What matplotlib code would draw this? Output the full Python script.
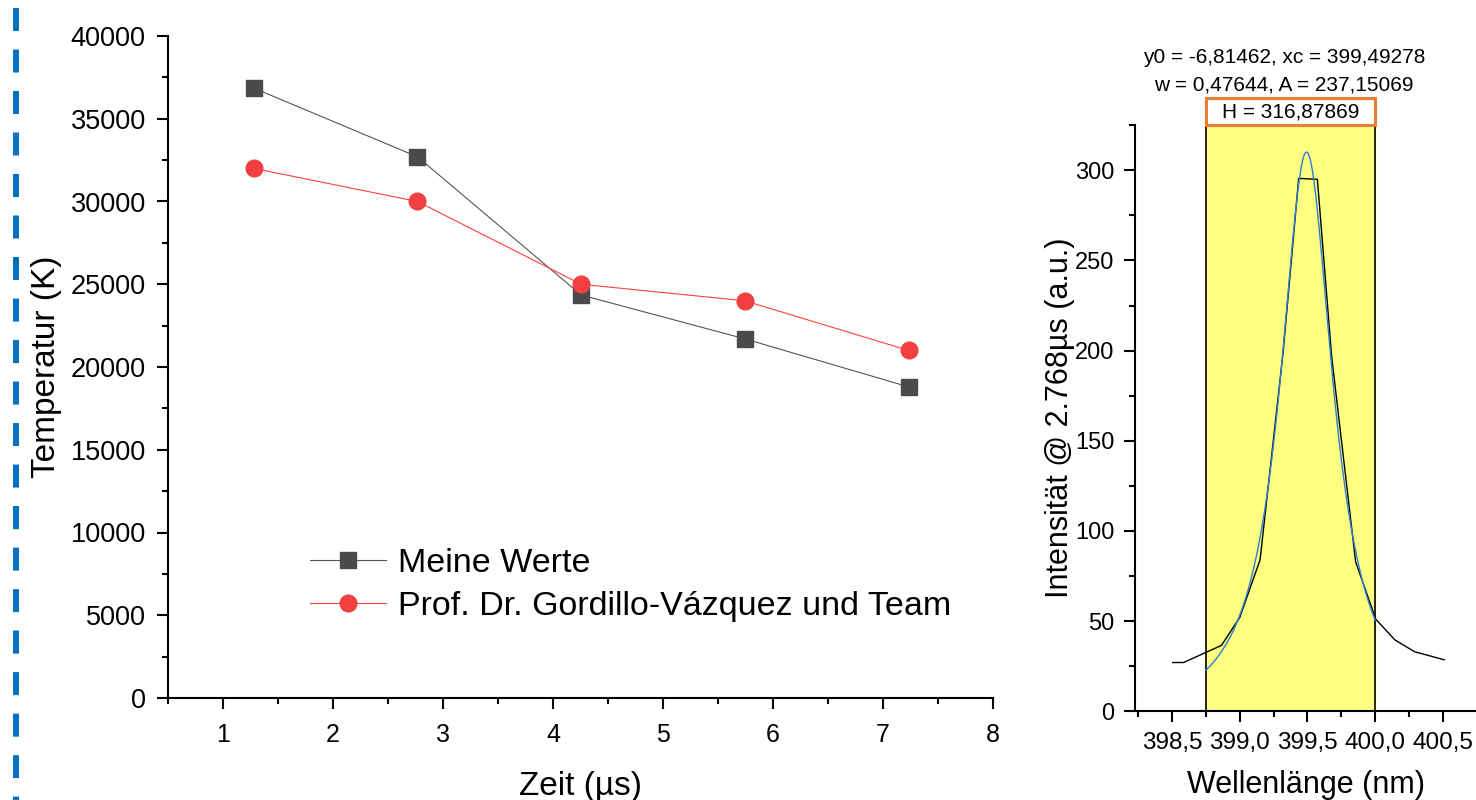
import numpy as np
import matplotlib
matplotlib.use("Agg")
import matplotlib.pyplot as plt
from matplotlib.lines import Line2D
from matplotlib.patches import Rectangle
from matplotlib.ticker import MultipleLocator, FuncFormatter
from matplotlib.transforms import blended_transform_factory

# ============================
# 1. Data
# ============================
# left panel: temperature vs. time
zeit = [1.28, 2.768, 4.256, 5.744, 7.232]
meine_werte = [36850, 32700, 24350, 21700, 18800]
gordillo = [32000, 30000, 25000, 24000, 21000]
legend_labels = ["Meine Werte", "Prof. Dr. Gordillo-Vázquez und Team"]

# right panel: measured line profile
wellenlaenge = [398.505, 398.585, 398.865, 399.0, 399.15, 399.32, 399.435,
                399.573, 399.678, 399.855, 400.004, 400.146, 400.29, 400.51]
intensitaet = [27, 27, 36.5, 52, 84, 199, 295.5,
               295, 197, 83, 51, 39.5, 33, 28.5]

# Lorentz fit parameters as printed above the panel
y0, xc, w, A = -6.81462, 399.49278, 0.47644, 237.15069
H = 316.87869
fit_range = (398.75, 400.0)

# ============================
# 2. Figure
# ============================
plt.rcParams["font.family"] = ["Liberation Sans", "DejaVu Sans"]
fig = plt.figure(figsize=(14.76, 8), dpi=100)

# blue dashed separator at the far left
fig.add_artist(Line2D([0.0108, 0.0108], [0.99, 0.0], transform=fig.transFigure,
                      color="#0070C0", lw=4.3, dashes=(3.85, 3.1)))

# ---- left panel ----
ax1 = fig.add_axes([0.1138, 0.1275, 0.559, 0.8275])
ax1.plot(zeit, meine_werte, color="#555555", lw=0.8, marker="s", ms=11,
         mfc="#4a4a4a", mec="#4a4a4a", label=legend_labels[0])
ax1.plot(zeit, gordillo, color="#ff4040", lw=0.8, marker="o", ms=12,
         mfc="#f04040", mec="#f04040", label=legend_labels[1])

ax1.set_xlim(0.5, 8)
ax1.set_ylim(0, 40000)
ax1.xaxis.set_major_locator(MultipleLocator(1))
ax1.xaxis.set_minor_locator(MultipleLocator(0.5))
ax1.yaxis.set_major_locator(MultipleLocator(5000))
ax1.yaxis.set_minor_locator(MultipleLocator(2500))
ax1.set_xlabel("Zeit (µs)", fontsize=24)
ax1.set_ylabel("Temperatur (K)", fontsize=24)
ax1.xaxis.set_label_coords(0.5, -0.11)
ax1.yaxis.set_label_coords(-0.128, 0.5)
ax1.tick_params(axis="y", labelsize=19.5, pad=8)
ax1.tick_params(axis="x", labelsize=18, pad=10)

leg = ax1.legend(loc="upper left", bbox_to_anchor=(0.172, 0.226), frameon=False,
                 fontsize=24.5, handlelength=2.25, handletextpad=0.33,
                 labelspacing=0.33, borderpad=0, borderaxespad=0)

# ---- right panel ----
ax2 = fig.add_axes([0.769, 0.111, 0.231, 0.7325])
ax2.axvspan(fit_range[0], fit_range[1], color="#FFFF80", zorder=0)
ax2.axvline(fit_range[0], color="black", lw=1.2, zorder=1)
ax2.axvline(fit_range[1], color="black", lw=1.2, zorder=1)

ax2.plot(wellenlaenge, intensitaet, color="black", lw=1.0, zorder=2)
x_fit = np.linspace(fit_range[0], fit_range[1], 400)
y_fit = y0 + 2 * A / np.pi * w / (4 * (x_fit - xc) ** 2 + w ** 2)
ax2.plot(x_fit, y_fit, color="#2b7fd6", lw=1.0, zorder=3)

ax2.set_xlim(398.227, 400.744)
ax2.set_ylim(0, 325)
ax2.xaxis.set_major_locator(MultipleLocator(0.5))
ax2.xaxis.set_minor_locator(MultipleLocator(0.25))
ax2.yaxis.set_major_locator(MultipleLocator(50))
ax2.yaxis.set_minor_locator(MultipleLocator(25))
ax2.xaxis.set_major_formatter(FuncFormatter(lambda v, p: f"{v:.1f}".replace(".", ",")))
ax2.set_xlabel("Wellenlänge (nm)", fontsize=22)
ax2.set_ylabel("Intensität @ 2.768µs (a.u.)", fontsize=22)
ax2.xaxis.set_label_coords(0.5, -0.101)
ax2.yaxis.set_label_coords(-0.175, 0.5)
ax2.tick_params(axis="y", labelsize=17, pad=7)
ax2.tick_params(axis="x", labelsize=17.5, pad=7)

# fit parameter table above the panel
tr = blended_transform_factory(ax2.transData, ax2.transAxes)
mid = (fit_range[0] + fit_range[1]) / 2
ax2.text(mid - 0.05, 1.116, "y0 = -6,81462, xc = 399,49278", transform=tr,
         ha="center", va="center", fontsize=15)
ax2.text(mid - 0.05, 1.068, "w = 0,47644, A = 237,15069", transform=tr,
         ha="center", va="center", fontsize=15)
ax2.add_patch(Rectangle((fit_range[0], 1.0), fit_range[1] - fit_range[0], 0.046,
                        transform=tr, fill=False, edgecolor="#ED7D31", lw=2.2,
                        clip_on=False, zorder=5))
ax2.text(mid, 1.022, "H = 316,87869", transform=tr,
         ha="center", va="center", fontsize=15)

# ---- common styling ----
for ax in (ax1, ax2):
    ax.spines["top"].set_visible(False)
    ax.spines["right"].set_visible(False)
    for s in ("left", "bottom"):
        ax.spines[s].set_linewidth(1.5)
    ax.tick_params(which="major", direction="out", length=8, width=1.5)
    ax.tick_params(which="minor", direction="out", length=4, width=1.5)

fig.savefig("out.png", dpi=100)
